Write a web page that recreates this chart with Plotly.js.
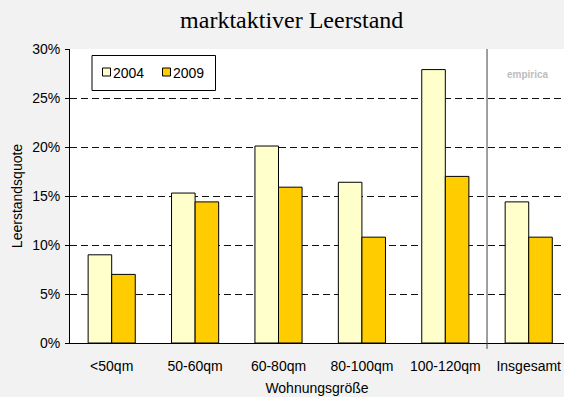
<!DOCTYPE html>
<html>
<head>
<meta charset="utf-8">
<script src="https://cdn.plot.ly/plotly-3.0.1.min.js"></script>
<style>
html,body{margin:0;padding:0;overflow:hidden;background:#f2f2f2;}
#chart{width:564px;height:397px;}
</style>
</head>
<body>
<div id="chart"></div>
<script>
var categories = ['<50qm', '50-60qm', '60-80qm', '80-100qm', '100-120qm', 'Insgesamt'];
var seriesNames = ['2004', '2009'];
var values2004 = [9.0, 15.3, 20.1, 16.4, 27.9, 14.4];
var values2009 = [7.0, 14.4, 15.9, 10.8, 17.0, 10.8];
var yTickVals = [0, 5, 10, 15, 20, 25, 30];
var yTickText = ['0%', '5%', '10%', '15%', '20%', '25%', '30%'];
var seriesColors = ['#FFFFCC', '#FFCC00'];

var font = 'Liberation Sans, Arial, sans-serif';
var idx = categories.map(function(c, i){ return i; });
var tickText = categories.map(function(c){ return c.replace('<', '&lt;'); });

// plot area in pixels: x 70..564, y 49..343
var PL = 70, PW = 494, PT = 49, PH = 294;
function px(x){ return (x - PL) / PW; }
function py(y){ return (PT + PH - y) / PH; }

var traces = [
  {type: 'bar', name: seriesNames[0], x: idx, y: values2004, showlegend: false,
   marker: {color: seriesColors[0], line: {color: '#000000', width: 1}}},
  {type: 'bar', name: seriesNames[1], x: idx, y: values2009, showlegend: false,
   marker: {color: seriesColors[1], line: {color: '#000000', width: 1}}}
];

// manual compact legend (box, swatches, labels)
var legendShapes = [
  {type: 'rect', xref: 'paper', yref: 'paper', x0: px(92), x1: px(215.5), y0: py(90.5), y1: py(55.5),
   fillcolor: '#ffffff', line: {color: '#000', width: 1}, layer: 'above'},
  {type: 'rect', xref: 'paper', yref: 'paper', x0: px(102.5), x1: px(110.5), y0: py(76), y1: py(68),
   fillcolor: seriesColors[0], line: {color: '#000', width: 1}, layer: 'above'},
  {type: 'rect', xref: 'paper', yref: 'paper', x0: px(162.5), x1: px(170.5), y0: py(76), y1: py(68),
   fillcolor: seriesColors[1], line: {color: '#000', width: 1}, layer: 'above'}
];
var legendLabels = [
  {text: seriesNames[0], xref: 'paper', yref: 'paper', x: px(111.5), y: py(72.5), xanchor: 'left', yanchor: 'middle',
   showarrow: false, borderpad: 0, font: {family: font, size: 14, color: '#000'}},
  {text: seriesNames[1], xref: 'paper', yref: 'paper', x: px(171.5), y: py(72.5), xanchor: 'left', yanchor: 'middle',
   showarrow: false, borderpad: 0, font: {family: font, size: 14, color: '#000'}}
];

var layout = {
  width: 564, height: 397,
  margin: {l: PL, r: 0, t: PT, b: 397 - PT - PH},
  paper_bgcolor: '#f2f2f2',
  plot_bgcolor: '#ffffff',
  barmode: 'group',
  bargap: 0.435,
  bargroupgap: 0,
  font: {family: font, size: 14, color: '#000'},
  title: {text: 'marktaktiver Leerstand', xref: 'container', x: 291.7 / 564, xanchor: 'center',
          yref: 'container', y: 1 - 20 / 397, yanchor: 'middle',
          font: {family: 'Liberation Serif, Times New Roman, serif', size: 24, color: '#000'}},
  xaxis: {
    range: [-0.5, 5.423], tickvals: idx, ticktext: tickText,
    showgrid: false, zeroline: false, showline: true, linecolor: '#000', linewidth: 1,
    ticks: '', tickfont: {family: font, size: 14}, ticklabelstandoff: 10,
    title: {text: 'Wohnungsgröße', font: {family: font, size: 14}, standoff: 10}
  },
  yaxis: {
    range: [0, 30], tickvals: yTickVals, ticktext: yTickText,
    showgrid: true, gridcolor: '#111', griddash: '7px,4px', gridwidth: 1,
    zeroline: false, showline: true, linecolor: '#000', linewidth: 1,
    ticks: 'outside', ticklen: 4, tickcolor: '#000', tickfont: {family: font, size: 14},
    ticklabelstandoff: 2,
    title: {text: 'Leerstandsquote', font: {family: font, size: 14}, standoff: 6}
  },
  showlegend: false,
  shapes: [
    {type: 'line', xref: 'x', yref: 'paper', x0: 4.5, x1: 4.5, y0: -0.02, y1: 1,
     line: {color: '#404040', width: 1}}
  ].concat(legendShapes),
  annotations: [
    {text: '<b>empirica</b>', xref: 'paper', yref: 'paper', x: px(528), y: py(74),
     xanchor: 'center', yanchor: 'middle', showarrow: false,
     font: {family: font, size: 10, color: '#bdbdbd'}}
  ].concat(legendLabels)
};

Plotly.newPlot('chart', traces, layout, {displayModeBar: false, staticPlot: true});
</script>
</body>
</html>
